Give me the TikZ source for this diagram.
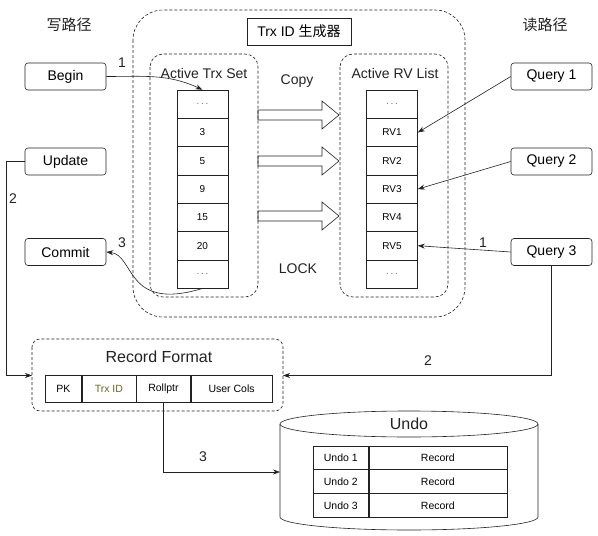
\documentclass[tikz,border=0pt]{standalone}
\usepackage{fontspec}
\setmainfont{Liberation Sans}
\newfontfamily\cjk{Noto Sans CJK SC}
\usetikzlibrary{arrows.meta,positioning}

\definecolor{ink}{HTML}{222222}
\definecolor{olivetext}{HTML}{6B6B1E}
\newcommand{\dd}{\textcolor{black!55}{.\,.\,.}}

\tikzset{
  ln/.style={draw=ink, line width=0.6pt},
  box/.style={ln, rounded corners=3pt, minimum width=81pt, minimum height=27pt, inner sep=0pt, font=\fontsize{14}{16}\selectfont},
  cell/.style={ln, minimum width=51pt, minimum height=28.3pt, inner sep=0pt, font=\fontsize{10}{12}\selectfont},
  field/.style={ln, minimum height=27pt, inner sep=0pt, anchor=west, font=\fontsize{10.5}{12}\selectfont},
  undocell/.style={ln, minimum height=23.8pt, inner sep=0pt, anchor=west, font=\fontsize{10.5}{12}\selectfont},
  dashbox/.style={draw=ink, line width=0.6pt, dash pattern=on 3pt off 2pt, rounded corners=#1},
  lbl/.style={text=ink, font=\fontsize{14}{16}\selectfont},
  big/.style={text=ink, font=\fontsize{16}{18}\selectfont},
  cjklbl/.style={text=ink, font=\cjk\fontsize{15}{18}\selectfont},
  arr/.style={ln, -{Stealth[length=7pt,width=5pt]}},
}

\begin{document}
\begin{tikzpicture}[x=1pt,y=-1pt]
  \useasboundingbox[fill=white] (0,0) rectangle (598,536);

  % path titles
  \node[cjklbl] (wpath) at (69,25) {写路径};
  \node[cjklbl] (rpath) at (545,25) {读路径};

  % Trx ID generator
  \draw[dashbox=30pt] (133,10) rectangle (465,317);
  \node[ln, minimum width=104pt, minimum height=27pt, inner sep=0pt, font=\fontsize{14}{16}\selectfont] (gentitle) at (299,31.5) {Trx ID {\cjk 生成器}};

  \draw[dashbox=13pt] (150,54) rectangle (258,297);
  \draw[dashbox=13pt] (340,54) rectangle (448,297);
  \node[lbl] (trxset) at (204,73) {Active Trx Set};
  \node[lbl] (rvlist) at (395,73) {Active RV List};
  \node[lbl] (copy) at (297,81) {Copy};
  \node[lbl] (lock) at (298,269) {LOCK};

  \foreach \t [count=\i from 0] in {\dd,3,5,9,15,20,\dd}
    \node[cell] (t\i) at (202.5,{104.2+28.3*\i}) {\t};
  \foreach \t [count=\i from 0] in {\dd,RV1,RV2,RV3,RV4,RV5,\dd}
    \node[cell] (r\i) at (392,{104.2+28.3*\i}) {\t};

  % copy arrows
  \foreach \y in {115,161,216}
    \draw[ln] (258,{\y-5}) -- (322,{\y-5}) -- (322,{\y-14}) -- (339,\y)
      -- (322,{\y+14}) -- (322,{\y+5}) -- (258,{\y+5}) -- cycle;

  % write path
  \node[box] (begin) at (65.5,76.5) {Begin};
  \node[box] (update) at (65.5,161.5) {Update};
  \node[box] (commit) at (65.5,252) {Commit};

  % read path
  \node[box] (q1) at (551.5,76.5) {Query 1};
  \node[box] (q2) at (551.5,161.5) {Query 2};
  \node[box] (q3) at (551.5,252) {Query 3};

  % record format
  \draw[dashbox=8pt] (32,339) rectangle (283,411);
  \node[big] (rectitle) at (159,357) {Record Format};
  \coordinate (recL) at (32,375.5);
  \coordinate (recR) at (283,375.5);
  \node[field, minimum width=36pt] (pk) at (45,388.5) {PK};
  \node[field, minimum width=54pt, text=olivetext] (trxid) at (pk.east) {Trx ID};
  \node[field, minimum width=54pt] (rollptr) at (trxid.east) {Rollptr};
  \node[field, minimum width=81pt] (usercols) at (rollptr.east) {User Cols};

  % undo
  \draw[ln] (280,424) -- (280,517) arc[start angle=180, end angle=0, x radius=129, y radius=13] -- (538,424);
  \draw[ln] (409,424) ellipse [x radius=129, y radius=13];
  \node[big] (undotitle) at (409,424) {Undo};
  \coordinate (undoin) at (280,472);
  \foreach \i in {1,2,3} {
    \node[undocell, minimum width=55pt] (u\i) at (313,{434+23.8*\i}) {Undo \i};
    \node[undocell, minimum width=138pt] (ur\i) at (u\i.east) {Record};
  }

  % connectors
  \draw[arr] (begin.east) to[out=0,in=155] (t0.north);
  \node[lbl] (n1a) at (122,63) {1};
  \draw[arr] (update.west) -- ++(-18,0) |- (recL);
  \node[lbl] (n2a) at (13,199) {2};
  \draw[arr] (t6.south) .. controls (125,312) and (135,255) .. (commit.east);
  \node[lbl] (n3a) at (122,243) {3};

  \draw[arr] (q1.west) -- (r1.east);
  \draw[arr] (q2.west) -- (r3.east);
  \draw[arr] (q3.west) -- (r5.east);
  \node[lbl] (n1b) at (483,243) {1};
  \draw[arr] (q3.south) |- (recR);
  \node[lbl] (n2b) at (428,361) {2};

  \draw[arr] (rollptr.south) |- (undoin);
  \node[lbl] (n3b) at (203,457) {3};
\end{tikzpicture}
\end{document}
